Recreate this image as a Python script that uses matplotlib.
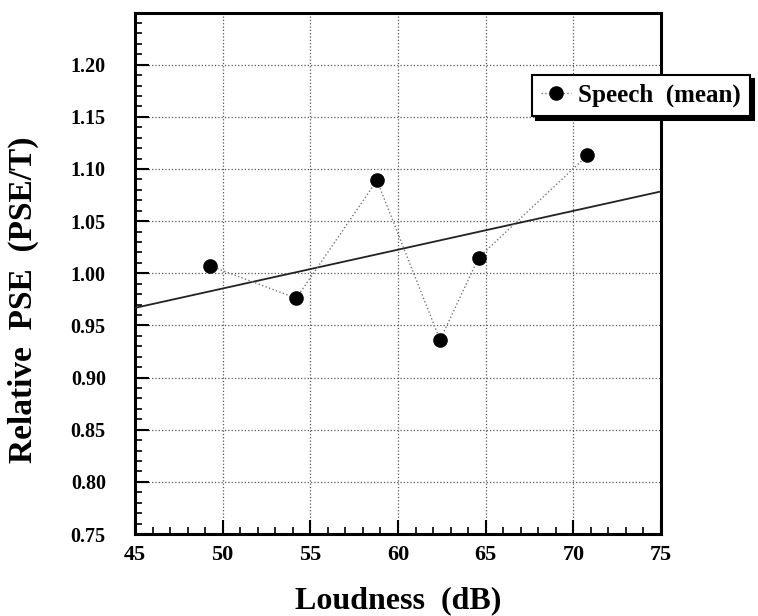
import numpy as np
import matplotlib
matplotlib.use("Agg")
import matplotlib.pyplot as plt
from matplotlib.ticker import MultipleLocator

# Data
loudness = [49.3, 54.2, 58.8, 62.4, 64.6, 70.8]
rel_pse = [1.007, 0.976, 1.089, 0.936, 1.015, 1.113]
x_ticks = [45, 50, 55, 60, 65, 70, 75]
y_ticks = [0.75, 0.80, 0.85, 0.90, 0.95, 1.00, 1.05, 1.10, 1.15, 1.20]
series_label = "Speech  (mean)"

plt.rcParams['font.family'] = ['Liberation Serif', 'DejaVu Serif']

fig = plt.figure(figsize=(7.58, 6.16), dpi=100)
ax = fig.add_axes([135/758, 1-534/616, (661-135)/758, (534-12.5)/616])

# regression line over the full x range
slope, intercept = np.polyfit(loudness, rel_pse, 1)
xr = np.array([x_ticks[0], x_ticks[-1]])
ax.plot(xr, slope*xr + intercept, color='#222222', lw=1.3, zorder=3)

ax.plot(loudness, rel_pse, linestyle=':', color='#777777', lw=1.0,
        marker='o', markersize=9.5, markerfacecolor='black',
        markeredgecolor='black', label=series_label, zorder=4)

ax.set_xlim(45, 75)
ax.set_ylim(0.75, 1.25)
ax.set_xticks(x_ticks)
ax.set_yticks(y_ticks)
ax.set_xticklabels([str(v) for v in x_ticks])
ax.set_yticklabels([f"{v:.2f}" for v in y_ticks])
ax.xaxis.set_minor_locator(MultipleLocator(1))
ax.yaxis.set_minor_locator(MultipleLocator(0.01))

ax.grid(True, which='major', linestyle=':', color='#555555', lw=0.9)
ax.tick_params(which='major', direction='in', length=10, width=1.5)
ax.tick_params(which='minor', direction='in', length=5, width=1.2)
ax.tick_params(axis='x', which='major', labelsize=16, pad=8)
ax.tick_params(axis='y', which='major', labelsize=14.5, pad=21)
for lab in ax.get_xticklabels() + ax.get_yticklabels():
    lab.set_fontweight('bold')
for sp in ax.spines.values():
    sp.set_linewidth(2.2)

fig.text(23/758, 1-300/616, 'Relative  PSE  (PSE/T)', rotation=90,
         ha='center', va='center', fontsize=24, fontweight='bold')
fig.text(398/758, 1-601/616, 'Loudness  (dB)', ha='center', va='center',
         fontsize=23, fontweight='bold')

leg = ax.legend(loc='upper left', bbox_to_anchor=(532/758, 1-75/616),
                bbox_transform=fig.transFigure, fancybox=False,
                shadow={'ox': 3, 'oy': -3, 'color': 'black', 'alpha': 1},
                framealpha=1, edgecolor='black', handlelength=1.2,
                handletextpad=0.3, borderpad=0.35, borderaxespad=0,
                prop={'weight': 'bold', 'size': 18})
leg.get_frame().set_linewidth(1.5)

fig.savefig('out.png', dpi=100)
